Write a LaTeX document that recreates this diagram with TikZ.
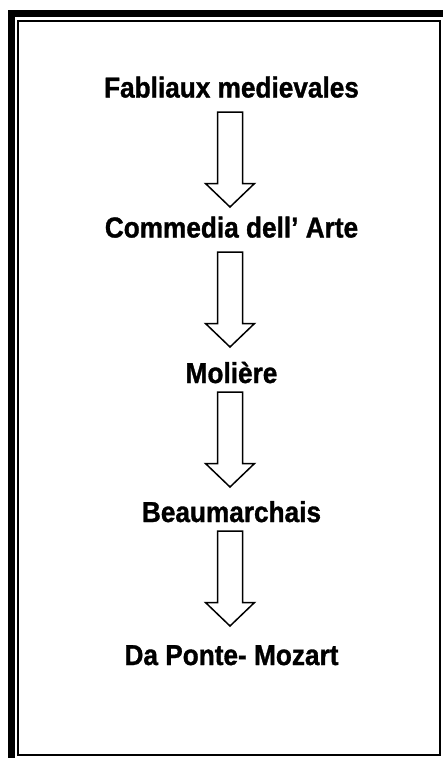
\documentclass[tikz,border=0pt]{standalone}
\usepackage{fontspec}
\usepackage{graphicx}
\setmainfont{Liberation Sans}
\newfontfamily\heavyfont{Liberation Sans Bold}[FakeBold=1.2]
\newcommand{\tallbox}[1]{\scalebox{1}[1.1]{#1}}
\begin{document}
\begin{tikzpicture}[x=1pt,y=-1pt,
  label/.style={font=\heavyfont\fontsize{26.2}{31}\selectfont, anchor=base, inner sep=0pt},
  blockarrow/.style={draw=black, line width=1.5pt, fill=white, line join=miter}]
\useasboundingbox (0,0) rectangle (443,758);
\fill[white] (0,0) rectangle (443,758);
% frame
\draw[line width=6.8pt] (11.5,13.3) rectangle (470,790);
\draw[line width=2pt] (18.3,21) rectangle (440.3,754.5);
% labels
\node[label] (t1) at (231.5,97.5) {\tallbox{Fabliaux medievales}};
\node[label] (t2) at (231.5,237.5) {\tallbox{Commedia dell’ Arte}};
\node[label] (t3) at (231.5,383) {\tallbox{Molière}};
\node[label] (t4) at (231.5,522) {\tallbox{Beaumarchais}};
\node[label] (t5) at (231.5,665) {\tallbox{Da Ponte- Mozart}};
% arrows
\coordinate (a1) at (230,112);
\coordinate (a2) at (230,252);
\coordinate (a3) at (230,392);
\coordinate (a4) at (230,531);
\foreach \a in {a1,a2,a3,a4}{
  \draw[blockarrow] (\a) ++(-12.5,0) -- ++(25,0) -- ++(0,71.5) -- ++(12,0)
     -- ++(-24.5,23.5) -- ++(-24.5,-23.5) -- ++(12,0) -- cycle;
}
\end{tikzpicture}
\end{document}
